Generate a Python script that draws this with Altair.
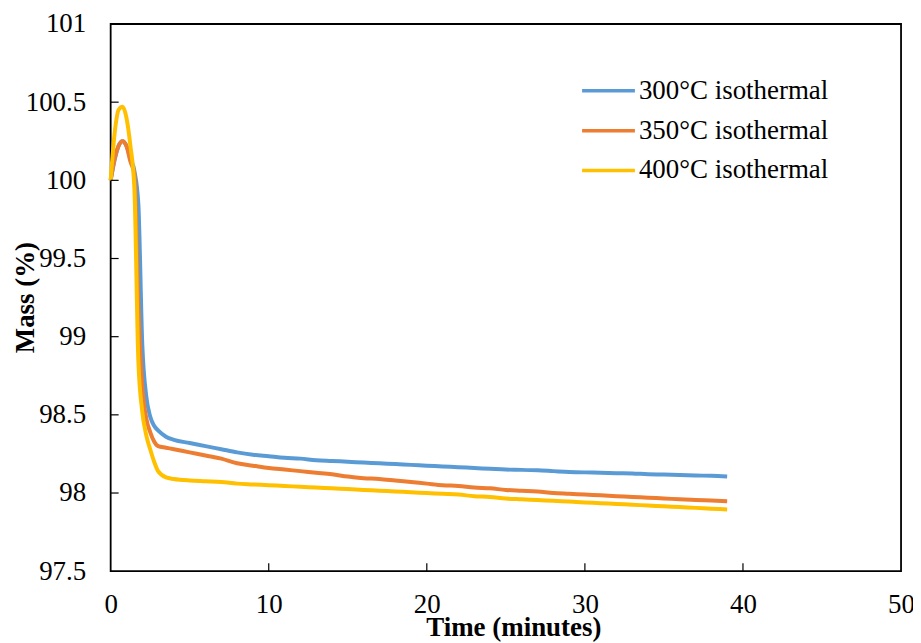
import altair as alt
import pandas as pd

times = [0, 0.25, 0.5, 0.75, 1.0, 1.25, 1.5, 1.75, 2.0, 2.25, 2.5, 2.75, 3.0, 3.5, 4,
         5, 6, 7, 8, 9, 10, 11, 12, 13, 14, 15, 16, 17, 18, 19, 20, 21, 22, 23, 24,
         25, 26, 27, 28, 29, 30, 31, 32, 33, 34, 35, 36, 37, 38, 39]

m300 = [100.00, 100.13, 100.22, 100.25, 100.22, 100.14, 100.06, 99.85, 98.95, 98.62, 98.49, 98.43, 98.40, 98.36, 98.34,
        98.32, 98.30, 98.28, 98.26, 98.245, 98.235, 98.225, 98.22, 98.21, 98.205, 98.20, 98.195, 98.19, 98.185, 98.18,
        98.175, 98.17, 98.165, 98.16, 98.155, 98.15, 98.148, 98.145, 98.14, 98.135, 98.132, 98.13, 98.127, 98.125, 98.12,
        98.118, 98.115, 98.112, 98.11, 98.105]

m350 = [100.00, 100.14, 100.22, 100.25, 100.22, 100.12, 100.04, 99.20, 98.68, 98.48, 98.39, 98.33, 98.30, 98.29, 98.28,
        98.26, 98.24, 98.22, 98.19, 98.175, 98.16, 98.15, 98.14, 98.13, 98.12, 98.105, 98.095, 98.09, 98.08, 98.07,
        98.06, 98.05, 98.045, 98.035, 98.03, 98.02, 98.015, 98.01, 98.00, 97.995, 97.99, 97.985, 97.98, 97.975, 97.97,
        97.965, 97.96, 97.955, 97.952, 97.948]

m400 = [100.00, 100.30, 100.45, 100.47, 100.40, 100.22, 99.95, 98.85, 98.52, 98.37, 98.28, 98.20, 98.14, 98.10, 98.09,
        98.08, 98.075, 98.07, 98.06, 98.055, 98.05, 98.045, 98.04, 98.035, 98.03, 98.025, 98.02, 98.015, 98.01, 98.005,
        98.00, 97.995, 97.99, 97.98, 97.975, 97.965, 97.96, 97.955, 97.95, 97.945, 97.94, 97.935, 97.93, 97.925, 97.92,
        97.915, 97.91, 97.905, 97.90, 97.895]

series_names = ["300°C isothermal", "350°C isothermal", "400°C isothermal"]
colors = ["#5B9BD5", "#ED7D31", "#FFC000"]
x_label_values = [0, 10, 20, 30, 40, 50]
y_label_values = [97.5, 98, 98.5, 99, 99.5, 100, 100.5, 101]
x_inner_ticks = [10, 20, 30, 40]
y_inner_ticks = [98, 98.5, 99, 99.5, 100, 100.5]

rows = []
for name, vals in zip(series_names, [m300, m350, m400]):
    for t, v in zip(times, vals):
        rows.append({"Time": t, "Mass": v, "Series": name})
df = pd.DataFrame(rows)
legend_df = pd.DataFrame({"Series": series_names})

FONT = "Times New Roman, Liberation Serif, serif"
W, H = 793, 549

x_scale = alt.Scale(domain=[0, 50], nice=False)
y_scale = alt.Scale(domain=[97.5, 101], nice=False, zero=False)
color_scale = alt.Scale(domain=series_names, range=colors)
legend_y = alt.Y("Series:N", scale=alt.Scale(type="point", domain=series_names, range=[67, 147], padding=0),
                 axis=None)

x_axis = alt.Axis(values=x_label_values, title="Time (minutes)", grid=False, domain=False,
                  ticks=False, tickSize=0, labelPadding=20, labelFont=FONT, labelFontSize=27,
                  labelFlush=False, labelColor="black", titleFont=FONT, titleFontSize=27,
                  titleFontWeight="bold", titleColor="black", titleX=404, titleY=65,
                  titleBaseline="alphabetic")
y_axis = alt.Axis(values=y_label_values, format="~g", title="Mass (%)", grid=False, domain=False,
                  ticks=False, tickSize=0, labelPadding=25, labelFont=FONT, labelFontSize=27,
                  labelFlush=False, labelColor="black", titleFont=FONT, titleFontSize=27,
                  titleFontWeight="bold", titleColor="black", titleX=-77, titleY=274,
                  titleBaseline="alphabetic")

lines = alt.Chart(df).mark_line(strokeWidth=4, interpolate="monotone").encode(
    x=alt.X("Time:Q", scale=x_scale, axis=x_axis),
    y=alt.Y("Mass:Q", scale=y_scale, axis=y_axis),
    color=alt.Color("Series:N", scale=color_scale, legend=None),
)

xt = alt.Chart(pd.DataFrame({"Time": x_inner_ticks})).mark_rule(color="black", strokeWidth=1.2).encode(
    x=alt.X("Time:Q", scale=x_scale, axis=x_axis), y=alt.value(H), y2=alt.value(H - 8))
yt = alt.Chart(pd.DataFrame({"m": y_inner_ticks})).mark_rule(color="black", strokeWidth=1.2).encode(
    y=alt.Y("m:Q", scale=y_scale, axis=None), x=alt.value(0), x2=alt.value(8))

leg_lines = alt.Chart(legend_df).mark_rule(strokeWidth=3.5).encode(
    y=legend_y, x=alt.value(473), x2=alt.value(526),
    color=alt.Color("Series:N", scale=color_scale, legend=None))
leg_text = alt.Chart(legend_df).mark_text(align="left", baseline="middle", font=FONT,
                                          fontSize=27, color="black").encode(
    y=legend_y, x=alt.value(530), text="Series:N")

chart = alt.layer(lines, xt, yt, leg_lines, leg_text).resolve_scale(y="independent").properties(
    width=W, height=H,
    autosize=alt.AutoSizeParams(type="none"),
    padding={"left": 103, "top": 15, "right": 12, "bottom": 71},
    background="white",
).configure_view(stroke="black", strokeWidth=1.8)

chart.save("out.html", embed_options={"renderer": "svg", "actions": False})
